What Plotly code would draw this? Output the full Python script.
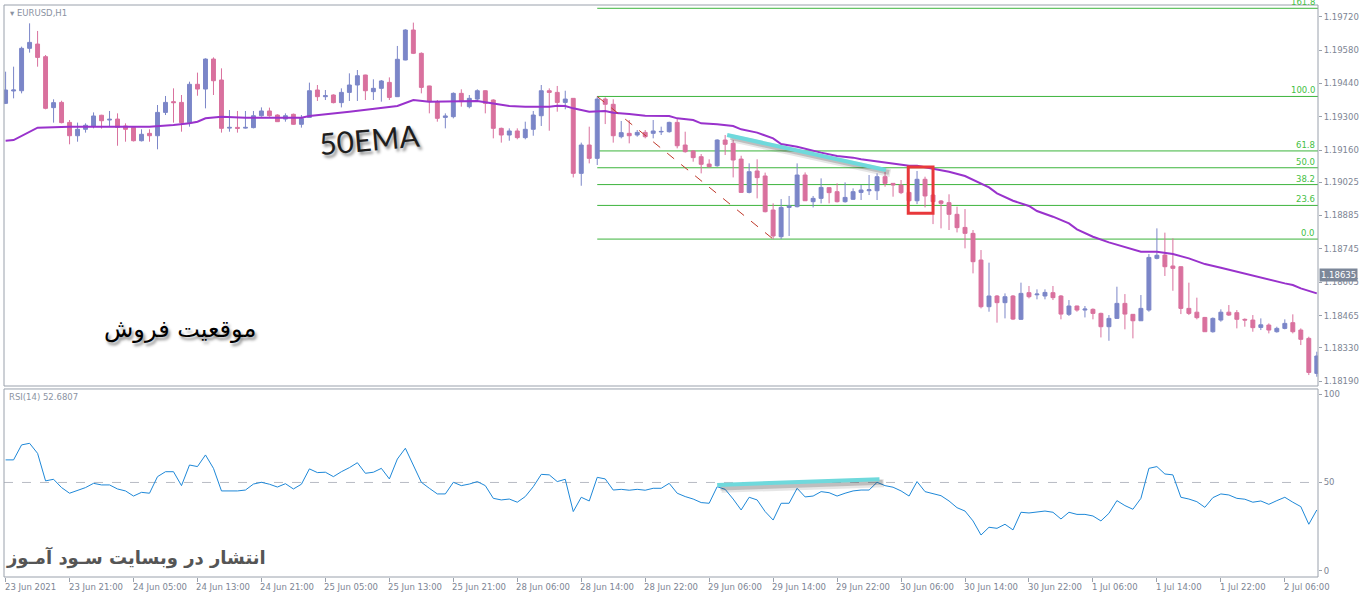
import plotly.graph_objects as go

# ---------------- data ----------------
opens = [1.19356,1.19408,1.19409,1.19587,1.19605,1.19552,1.19338,1.19360,1.19276,1.19220,
         1.19247,1.19261,1.19306,1.19286,1.19290,1.19261,1.19255,1.19199,1.19230,1.19220,
         1.19318,1.19363,1.19360,1.19275,1.19436,1.19416,1.19542,1.19454,1.19252,1.19255,
         1.19252,1.19254,1.19304,1.19324,1.19307,1.19290,1.19310,1.19268,1.19297,1.19412,
         1.19384,1.19391,1.19359,1.19402,1.19433,1.19475,1.19405,1.19419,1.19444,1.19384,
         1.19538,1.19664,1.19566,1.19429,1.19363,1.19297,1.19300,1.19398,1.19342,1.19374,
         1.19409,1.19370,1.19251,1.19223,1.19240,1.19212,1.19247,1.19304,1.19409,1.19402,
         1.19360,1.19377,1.19062,1.19181,1.19125,1.19374,1.19352,1.19216,1.19230,1.19223,
         1.19234,1.19230,1.19236,1.19237,1.19276,1.19181,1.19156,1.19132,1.19101,1.19094,
         1.19202,1.19188,1.19122,1.18982,1.19072,1.19051,1.18908,1.18796,1.18919,1.18922,
         1.19055,1.18943,1.18957,1.19002,1.18985,1.18943,1.18953,1.18982,1.18989,1.18989,
         1.19048,1.19020,1.19013,1.18982,1.18947,1.19037,1.18971,1.18946,1.18939,1.18890,
         1.18835,1.18810,1.18698,1.18502,1.18547,1.18519,1.18547,1.18449,1.18561,1.18552,
         1.18547,1.18561,1.18547,1.18470,1.18505,1.18488,1.18491,1.18474,1.18418,1.18453,
         1.18516,1.18470,1.18443,1.18488,1.18705,1.18719,1.18673,1.18670,1.18495,1.18479,
         1.18457,1.18397,1.18446,1.18479,1.18477,1.18449,1.18446,1.18415,1.18425,1.18397,
         1.18411,1.18435,1.18404,1.18369,1.18222]
highs = [1.19489,1.19510,1.19594,1.19692,1.19660,1.19559,1.19373,1.19367,1.19286,1.19275,
         1.19272,1.19318,1.19308,1.19324,1.19314,1.19272,1.19258,1.19247,1.19247,1.19349,
         1.19387,1.19419,1.19391,1.19447,1.19485,1.19545,1.19549,1.19503,1.19328,1.19324,
         1.19324,1.19324,1.19339,1.19338,1.19310,1.19314,1.19313,1.19307,1.19443,1.19433,
         1.19412,1.19394,1.19419,1.19482,1.19496,1.19476,1.19457,1.19454,1.19465,1.19597,
         1.19667,1.19695,1.19570,1.19430,1.19370,1.19314,1.19402,1.19415,1.19391,1.19415,
         1.19411,1.19373,1.19254,1.19251,1.19251,1.19279,1.19324,1.19433,1.19419,1.19429,
         1.19409,1.19378,1.19191,1.19258,1.19385,1.19381,1.19373,1.19282,1.19286,1.19244,
         1.19244,1.19286,1.19258,1.19279,1.19290,1.19237,1.19160,1.19143,1.19121,1.19205,
         1.19223,1.19202,1.19136,1.19104,1.19121,1.19065,1.18936,1.18954,1.18967,1.19104,
         1.19066,1.18967,1.19041,1.19003,1.19020,1.19024,1.18999,1.19013,1.19055,1.19062,
         1.19069,1.19021,1.19034,1.18985,1.19072,1.19048,1.18972,1.18950,1.18974,1.18922,
         1.18912,1.18824,1.18740,1.18687,1.18551,1.18558,1.18551,1.18603,1.18589,1.18575,
         1.18575,1.18589,1.18551,1.18530,1.18506,1.18505,1.18495,1.18477,1.18467,1.18586,
         1.18555,1.18471,1.18551,1.18723,1.18831,1.18813,1.18789,1.18671,1.18603,1.18540,
         1.18459,1.18457,1.18491,1.18509,1.18488,1.18453,1.18467,1.18453,1.18432,1.18418,
         1.18449,1.18470,1.18411,1.18376,1.18313]
lows = [1.19353,1.19377,1.19398,1.19569,1.19510,1.19331,1.19275,1.19272,1.19184,1.19195,
        1.19233,1.19251,1.19250,1.19261,1.19178,1.19195,1.19196,1.19196,1.19195,1.19163,
        1.19307,1.19275,1.19237,1.19258,1.19388,1.19335,1.19391,1.19233,1.19237,1.19233,
        1.19250,1.19251,1.19300,1.19300,1.19278,1.19279,1.19266,1.19254,1.19296,1.19366,
        1.19370,1.19356,1.19339,1.19366,1.19366,1.19370,1.19370,1.19363,1.19370,1.19383,
        1.19537,1.19563,1.19398,1.19314,1.19279,1.19251,1.19293,1.19342,1.19335,1.19370,
        1.19314,1.19209,1.19191,1.19199,1.19205,1.19205,1.19220,1.19261,1.19241,1.19321,
        1.19331,1.19045,1.19010,1.19104,1.19097,1.19269,1.19191,1.19209,1.19188,1.19216,
        1.19209,1.19209,1.19223,1.19233,1.19167,1.19149,1.19111,1.19062,1.19087,1.19090,
        1.19139,1.19045,1.18981,1.18978,1.18957,1.18898,1.18786,1.18786,1.18799,1.18919,
        1.18946,1.18919,1.18936,1.18936,1.18940,1.18939,1.18950,1.18950,1.18971,1.18950,
        1.19006,1.18964,1.18975,1.18943,1.18933,1.18919,1.18849,1.18831,1.18824,1.18814,
        1.18747,1.18642,1.18495,1.18481,1.18435,1.18453,1.18446,1.18447,1.18537,1.18533,
        1.18533,1.18530,1.18449,1.18463,1.18481,1.18457,1.18449,1.18373,1.18359,1.18452,
        1.18407,1.18369,1.18442,1.18481,1.18701,1.18631,1.18569,1.18471,1.18467,1.18449,
        1.18396,1.18393,1.18439,1.18463,1.18411,1.18418,1.18397,1.18404,1.18390,1.18393,
        1.18407,1.18390,1.18341,1.18215,1.18208]
closes = [1.19412,1.19412,1.19587,1.19612,1.19549,1.19335,1.19359,1.19275,1.19220,1.19247,
          1.19264,1.19303,1.19283,1.19289,1.19255,1.19247,1.19199,1.19226,1.19220,1.19318,
          1.19360,1.19359,1.19275,1.19436,1.19416,1.19542,1.19451,1.19251,1.19255,1.19251,
          1.19255,1.19304,1.19324,1.19304,1.19279,1.19304,1.19268,1.19292,1.19409,1.19384,
          1.19388,1.19359,1.19402,1.19433,1.19472,1.19409,1.19419,1.19450,1.19381,1.19541,
          1.19664,1.19566,1.19423,1.19363,1.19293,1.19303,1.19398,1.19363,1.19377,1.19409,
          1.19356,1.19251,1.19223,1.19240,1.19212,1.19247,1.19307,1.19409,1.19402,1.19360,
          1.19374,1.19062,1.19181,1.19125,1.19374,1.19352,1.19220,1.19233,1.19220,1.19234,
          1.19216,1.19240,1.19238,1.19276,1.19178,1.19153,1.19128,1.19100,1.19090,1.19202,
          1.19184,1.19118,1.18982,1.19069,1.19044,1.18901,1.18799,1.18919,1.18925,1.19055,
          1.18947,1.18957,1.19003,1.18981,1.18943,1.18961,1.18985,1.18992,1.18993,1.19048,
          1.19020,1.19013,1.18981,1.18947,1.19037,1.18967,1.18943,1.18936,1.18890,1.18834,
          1.18810,1.18691,1.18502,1.18547,1.18519,1.18544,1.18450,1.18558,1.18544,1.18555,
          1.18562,1.18540,1.18471,1.18505,1.18488,1.18492,1.18474,1.18418,1.18453,1.18516,
          1.18471,1.18443,1.18495,1.18709,1.18718,1.18670,1.18663,1.18495,1.18474,1.18456,
          1.18397,1.18453,1.18479,1.18467,1.18449,1.18446,1.18414,1.18426,1.18404,1.18411,
          1.18432,1.18397,1.18365,1.18226,1.18295]

ema_bars = [0,1,4,8,12,18,21,23,24,25,27,30,37,38,43,47,49,51,53,59,61,63,65,68,69,70,71,73,75,76,78,80,
            83,84,86,87,89,91,92,94,96,97,99,101,102,104,106,107,109,113,114,116,118,120,121,123,124,126,
            128,129,131,133,134,136,138,140,142,144,146,148,150,152,154,156,158,160,161,162,164]
ema_vals = [1.19199,1.19202,1.19254,1.19258,1.19258,1.19258,1.19265,1.19272,1.19279,1.19293,1.19300,1.19296,
            1.19296,1.19303,1.19321,1.19335,1.19345,1.19370,1.19363,1.19366,1.19356,1.19345,1.19342,1.19342,
            1.19346,1.19345,1.19335,1.19321,1.19324,1.19317,1.19311,1.19304,1.19303,1.19293,1.19286,1.19272,
            1.19268,1.19261,1.19247,1.19233,1.19209,1.19185,1.19174,1.19157,1.19149,1.19135,1.19128,1.19121,
            1.19111,1.19094,1.19094,1.19080,1.19069,1.19051,1.19034,1.19003,1.18978,1.18947,1.18925,1.18904,
            1.18880,1.18852,1.18827,1.18796,1.18772,1.18754,1.18733,1.18733,1.18723,1.18705,1.18681,1.18666,
            1.18649,1.18632,1.18617,1.18600,1.18593,1.18579,1.18558]

rsi_vals = [62.8,62.8,71.3,72.2,66.5,50.9,51.8,47.1,43.9,45.7,47.1,49.5,48.6,48.6,46.3,45.2,42.3,44.4,43.9,53.3,
            56.1,56.1,48.2,59.9,59.0,65.6,58.0,45.2,45.2,45.2,45.7,49.1,50.1,49.0,47.4,49.3,46.3,49.0,57.7,55.6,
            55.8,53.3,56.1,58.4,61.2,55.2,55.8,58.0,52.0,63.3,69.4,59.9,50.1,46.7,43.5,43.5,50.1,48.2,49.1,50.5,
            48.2,41.0,40.1,40.6,38.8,42.0,47.6,54.6,54.3,50.5,51.8,33.5,41.6,39.5,52.9,52.0,45.7,46.1,45.6,46.1,
            45.6,46.7,46.7,49.5,43.9,42.0,40.6,38.6,38.2,47.6,46.1,40.6,34.4,41.6,40.1,33.5,28.7,38.2,38.2,46.7,
            41.8,42.3,44.8,44.2,42.3,43.9,45.2,45.7,45.7,50.1,48.2,47.3,45.2,42.3,50.5,44.8,43.5,42.5,39.5,35.7,
            33.8,28.2,20.2,24.6,24.0,26.3,23.1,33.1,32.7,33.1,33.8,33.1,29.3,33.1,31.9,31.9,31.0,28.2,32.5,39.7,
            36.9,34.8,41.0,58.0,59.0,54.8,54.3,41.6,40.6,39.1,35.9,41.4,43.5,42.9,41.0,40.5,38.8,39.5,37.6,39.7,
            41.6,38.8,36.3,26.3,34.4]

time_tick_bars = [0,8,16,24,32,40,48,56,64,72,80,88,96,104,112,120,128,136,144,152,160]
time_tick_labels = ["23 Jun 2021","23 Jun 21:00","24 Jun 05:00","24 Jun 13:00","24 Jun 21:00",
                    "25 Jun 05:00","25 Jun 13:00","25 Jun 21:00","28 Jun 06:00","28 Jun 14:00",
                    "28 Jun 22:00","29 Jun 06:00","29 Jun 14:00","29 Jun 22:00","30 Jun 06:00",
                    "30 Jun 14:00","30 Jun 22:00","1 Jul 06:00","1 Jul 14:00","1 Jul 22:00","2 Jul 06:00"]
price_ticks = [1.19720,1.19580,1.19440,1.19300,1.19160,1.19025,1.18885,1.18745,1.18605,1.18465,1.18330,1.18190]
price_tick_labels = ["1.19720","1.19580","1.19440","1.19300","1.19160","1.19025","1.18885","1.18745",
                     "1.18605","1.18465","1.18330","1.18190"]
rsi_ticks = [0, 50, 100]

fib_start_bar = 74
fib_end_bar = 96
fib_high = 1.19385
fib_low = 1.18786
fib_ratios = [1.618, 1.0, 0.618, 0.5, 0.382, 0.236, 0.0]
fib_labels = ["161.8", "100.0", "61.8", "50.0", "38.2", "23.6", "0.0"]

price_trend_bars = [90.25, 110.1]
price_trend_vals = [1.19223, 1.19076]
rsi_trend_bars = [89.0, 109.3]
rsi_trend_vals = [48.6, 51.8]
box_bars = [112.9, 116.0]
box_prices = [1.18895, 1.19089]
marked_price = 1.18635
marked_label = "1.18635"

# ---------------- style ----------------
BLUE = "#7b86c8"
PINK = "#d9719e"
AXIS_TXT = "#7d8594"
FRAME = "#9aa1ac"
GREEN = "#3cb43c"
FONT = "DejaVu Sans"

W, H = 1364, 598
ML, MR, MT, MB = 4, 46, 5, 21
PW, PH = W - ML - MR, H - MT - MB
X_RANGE = [-0.2, 164.15]
Y_RANGE = [1.18169, 1.19769]
R_RANGE = [-3.6, 103.0]
MAIN_DOM = [0.3339, 1.0]
RSI_DOM = [0.0, 0.3287]


def px(xp):
    return (xp - ML) / PW


def py(yp):
    return (H - MB - yp) / PH


fig = go.Figure()

fig.add_trace(go.Candlestick(
    x=list(range(len(opens))), open=opens, high=highs, low=lows, close=closes,
    increasing=dict(line=dict(color=BLUE, width=1), fillcolor=BLUE),
    decreasing=dict(line=dict(color=PINK, width=1), fillcolor=PINK),
    whiskerwidth=0, xaxis="x", yaxis="y", showlegend=False, hoverinfo="skip"))

fig.add_trace(go.Scatter(x=ema_bars, y=ema_vals, mode="lines",
                         line=dict(color="#9932cc", width=2), xaxis="x", yaxis="y",
                         showlegend=False, hoverinfo="skip"))

fig.add_trace(go.Scatter(x=list(range(len(rsi_vals))), y=rsi_vals, mode="lines",
                         line=dict(color="#1e88d8", width=1), xaxis="x", yaxis="y2",
                         showlegend=False, hoverinfo="skip"))

shapes = []
rng = fib_high - fib_low
for r in fib_ratios:
    lv = fib_low + r * rng
    shapes.append(dict(type="line", xref="x", yref="y", x0=fib_start_bar, x1=X_RANGE[1],
                       y0=lv, y1=lv, line=dict(color=GREEN, width=1), layer="below"))
shapes.append(dict(type="line", xref="x", yref="y", x0=fib_start_bar, x1=fib_end_bar,
                   y0=fib_high, y1=fib_low, line=dict(color="#c0392b", width=1, dash="dash")))
# trend lines with soft shadow
for dx, dy, w, a in [(0.55, -0.00013, 8, 0.12), (0.4, -0.00010, 5, 0.22)]:
    shapes.append(dict(type="line", xref="x", yref="y", x0=price_trend_bars[0] + dx, x1=price_trend_bars[1] + dx,
                       y0=price_trend_vals[0] + dy, y1=price_trend_vals[1] + dy,
                       line=dict(color="rgba(50,50,50,%.2f)" % a, width=w)))
shapes.append(dict(type="line", xref="x", yref="y", x0=price_trend_bars[0], x1=price_trend_bars[1],
                   y0=price_trend_vals[0], y1=price_trend_vals[1],
                   line=dict(color="#6fd9dc", width=4)))
for dx, dy, w, a in [(0.55, -2.2, 8, 0.12), (0.4, -1.7, 5, 0.22)]:
    shapes.append(dict(type="line", xref="x", yref="y2", x0=rsi_trend_bars[0] + dx, x1=rsi_trend_bars[1] + dx,
                       y0=rsi_trend_vals[0] + dy, y1=rsi_trend_vals[1] + dy,
                       line=dict(color="rgba(50,50,50,%.2f)" % a, width=w)))
shapes.append(dict(type="line", xref="x", yref="y2", x0=rsi_trend_bars[0], x1=rsi_trend_bars[1],
                   y0=rsi_trend_vals[0], y1=rsi_trend_vals[1],
                   line=dict(color="#6fd9dc", width=4)))
shapes.append(dict(type="rect", xref="x", yref="y", x0=box_bars[0], x1=box_bars[1],
                   y0=box_prices[0], y1=box_prices[1], line=dict(color="#e8383b", width=3)))
shapes.append(dict(type="line", xref="paper", yref="y2", x0=0, x1=1, y0=50, y1=50,
                   line=dict(color="#b8bcc4", width=1, dash="dash"), layer="below"))
shapes.append(dict(type="rect", xref="paper", yref="paper", x0=0, x1=1, y0=MAIN_DOM[0], y1=1,
                   line=dict(color=FRAME, width=1)))
shapes.append(dict(type="rect", xref="paper", yref="paper", x0=0, x1=1, y0=0, y1=RSI_DOM[1],
                   line=dict(color=FRAME, width=1)))

ann = []
for r, lab in zip(fib_ratios, fib_labels):
    lv = fib_low + r * rng
    ann.append(dict(xref="paper", yref="y", x=1, y=lv, xanchor="right", yanchor="bottom",
                    text=lab, showarrow=False, font=dict(family=FONT, size=8.5, color="#44c044"),
                    xshift=-1, yshift=-1))
for b, lab in zip(time_tick_bars, time_tick_labels):
    ann.append(dict(xref="x", yref="paper", x=b, y=0, xanchor="left", yanchor="top",
                    text=lab, showarrow=False, font=dict(family=FONT, size=8.5, color=AXIS_TXT),
                    xshift=-3, yshift=-3))
ann.append(dict(xref="paper", yref="y", x=1, y=marked_price, xanchor="left", yanchor="middle",
                text=marked_label, showarrow=False, bgcolor="#7c8799",
                font=dict(family=FONT, size=8.5, color="white"), xshift=1, borderpad=1))
ann.append(dict(xref="paper", yref="paper", x=px(8), y=1, xanchor="left",
                yanchor="top", text="▾ EURUSD,H1", showarrow=False,
                font=dict(family=FONT, size=8.5, color="#8b93a2"), yshift=-1))
ann.append(dict(xref="paper", yref="paper", x=0, y=RSI_DOM[1], xanchor="left", yanchor="top",
                text="RSI(14) 52.6807", showarrow=False,
                font=dict(family=FONT, size=8.5, color="#8b93a2"), xshift=3, yshift=-1))
ann.append(dict(xref="paper", yref="paper", x=px(369), y=py(139), xanchor="center", yanchor="middle",
                text="50EMA", showarrow=False, textangle=-5,
                font=dict(family="Lato", size=30, color="#1e1e1e",
                          shadow="2px 3px 3px rgba(0,0,0,0.45)")))
ann.append(dict(xref="paper", yref="paper", x=px(180), y=py(329), xanchor="center", yanchor="middle",
                text="موقعیت فروش", showarrow=False,
                font=dict(family="DejaVu Sans", size=24, color="#000000",
                          shadow="2px 3px 3px rgba(0,0,0,0.45)")))
ann.append(dict(xref="paper", yref="paper", x=px(136), y=py(557), xanchor="center", yanchor="middle",
                text="<b>انتشار در وبسایت سـود آمـوز</b>", showarrow=False,
                font=dict(family="DejaVu Sans", size=18, color="#555555")))

fig.update_layout(
    width=W, height=H, margin=dict(l=ML, r=MR, t=MT, b=MB, pad=0),
    paper_bgcolor="white", plot_bgcolor="white",
    shapes=shapes, annotations=ann, showlegend=False,
    xaxis=dict(domain=[0, 1], range=X_RANGE, anchor="y2", showgrid=False, zeroline=False,
               rangeslider=dict(visible=False), tickvals=time_tick_bars, ticktext=[""] * len(time_tick_bars),
               ticks="outside", ticklen=4, tickcolor=FRAME, showline=False),
    yaxis=dict(domain=MAIN_DOM, range=Y_RANGE, side="right", anchor="x", showgrid=False,
               zeroline=False, tickvals=price_ticks, ticktext=price_tick_labels,
               ticks="outside", ticklen=3, tickcolor=FRAME,
               tickfont=dict(family=FONT, size=8.5, color=AXIS_TXT)),
    yaxis2=dict(domain=RSI_DOM, range=R_RANGE, side="right", anchor="x", showgrid=False,
                zeroline=False, tickvals=rsi_ticks, ticktext=[str(v) for v in rsi_ticks],
                ticks="outside", ticklen=3, tickcolor=FRAME,
                tickfont=dict(family=FONT, size=8.5, color=AXIS_TXT)),
)

fig.write_html("out.html", config={"displayModeBar": False},
               post_script="document.body.style.margin='0px';")
